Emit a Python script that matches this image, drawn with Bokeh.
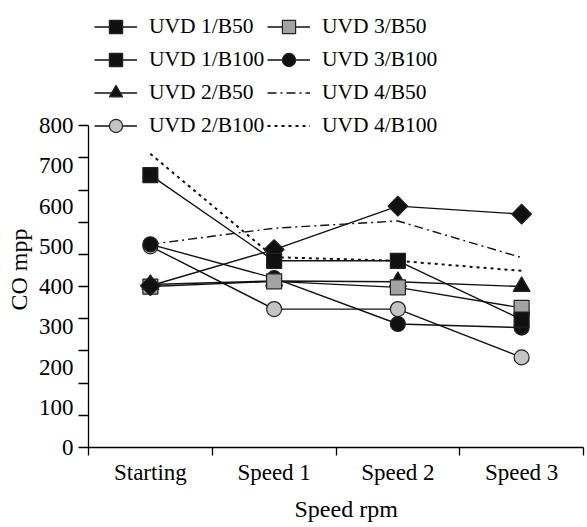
import math
from bokeh.plotting import figure
from bokeh.models import Range1d, FixedTicker, Legend, LegendItem, Title
from bokeh.embed import file_html
from bokeh.resources import INLINE

# ---- data ----
categories = ["Starting", "Speed 1", "Speed 2", "Speed 3"]
uvd1_b50 = [402, 492, 600, 580]
uvd1_b100 = [677, 464, 464, 318]
uvd2_b50 = [405, 414, 412, 400]
uvd2_b100 = [500, 344, 344, 224]
uvd3_b50 = [400, 413, 398, 347]
uvd3_b100 = [505, 421, 307, 298]
uvd4_b50 = [505, 545, 563, 472]
uvd4_b100 = [730, 473, 464, 439]
y_ticks = [0, 100, 200, 300, 400, 500, 600, 700, 800]
y_tick_marks = [0, 80, 160, 240, 320, 400, 480, 560, 640, 720, 800]
x_title = "Speed rpm"
y_title = "CO mpp"

FONT = "serif"
x = [i + 0.5 for i in range(len(categories))]

p = figure(width=587, height=527, output_backend="svg", toolbar_location=None,
           x_range=Range1d(0, len(categories)), y_range=Range1d(0, 1111),
           min_border_left=87, min_border_right=4, min_border_top=0,
           min_border_bottom=80)
p.xgrid.visible = False
p.ygrid.visible = False
p.outline_line_color = None

# axes
xa = p.xaxis[0]
xa.ticker = FixedTicker(ticks=x, minor_ticks=list(range(len(categories) + 1)))
xa.major_label_overrides = {xi: c for xi, c in zip(x, categories)}
xa.major_tick_line_color = None
xa.major_tick_out = 0
xa.major_tick_in = 0
xa.minor_tick_out = 8
xa.minor_tick_in = 0
xa.minor_tick_line_color = "black"
xa.minor_tick_line_width = 1.3
xa.axis_line_width = 1.3
xa.axis_line_color = "black"
xa.major_label_text_font = FONT
xa.major_label_text_font_size = "23px"
xa.major_label_text_color = "black"
xa.major_label_standoff = 4

ya = p.yaxis[0]
ya.bounds = (0, 800)
ya.ticker = FixedTicker(ticks=y_ticks, minor_ticks=y_tick_marks)
ya.major_tick_line_color = None
ya.major_tick_out = 0
ya.major_tick_in = 0
ya.minor_tick_out = 10
ya.minor_tick_in = 0
ya.minor_tick_line_color = "black"
ya.minor_tick_line_width = 1.3
ya.axis_line_width = 1.3
ya.axis_line_color = "black"
ya.major_label_text_font = FONT
ya.major_label_text_font_size = "23px"
ya.major_label_text_color = "black"
ya.major_label_standoff = 5

series = {
    "UVD 1/B50": dict(y=uvd1_b50, marker="square", angle=math.pi / 4, size=14, fill="#111111", dash="solid"),
    "UVD 1/B100": dict(y=uvd1_b100, marker="square", angle=0, size=15, fill="#111111", dash="solid"),
    "UVD 2/B50": dict(y=uvd2_b50, marker="triangle", angle=0, size=17, fill="#111111", dash="solid"),
    "UVD 2/B100": dict(y=uvd2_b100, marker="circle", angle=0, size=15, fill="#c4c4c4", dash="solid"),
    "UVD 3/B50": dict(y=uvd3_b50, marker="square", angle=0, size=15, fill="#a3a3a3", dash="solid"),
    "UVD 3/B100": dict(y=uvd3_b100, marker="circle", angle=0, size=15, fill="#111111", dash="solid"),
    "UVD 4/B50": dict(y=uvd4_b50, marker=None, dash="9 4 2 4"),
    "UVD 4/B100": dict(y=uvd4_b100, marker=None, dash="3 4"),
}

lines = {}
for name, s in series.items():
    w = 2 if s["dash"] == "3 4" else 1.4
    lines[name] = p.line(x, s["y"], line_color="#111111", line_width=w, line_dash=s["dash"])

marks = {}
draw_order = ["UVD 2/B50", "UVD 2/B100", "UVD 3/B100", "UVD 3/B50", "UVD 1/B50", "UVD 1/B100"]
for name in draw_order:
    s = series[name]
    marks[name] = p.scatter(x, s["y"], marker=s["marker"], size=s["size"], angle=s["angle"],
                            fill_color=s["fill"], line_color="#222222", line_width=1.2)

items = []
for name in series:
    rs = [lines[name]] + ([marks[name]] if name in marks else [])
    items.append(LegendItem(label=name, renderers=rs))

legend = Legend(items=items, location=(6, 305), nrows=4, orientation="vertical",
                margin=0, padding=6, spacing=0, glyph_width=43, glyph_height=33,
                label_height=33, label_width=118, label_standoff=12,
                label_text_font=FONT, label_text_font_size="21.5px", label_text_color="black",
                border_line_color=None, background_fill_alpha=0)
p.add_layout(legend)

p.add_layout(Title(text=y_title, align="left", offset=137, standoff=7,
                   text_font=FONT, text_font_size="24px", text_font_style="normal",
                   text_color="black"), "left")
p.add_layout(Title(text=x_title, align="left", offset=206, standoff=12,
                   text_font=FONT, text_font_size="24px", text_font_style="normal",
                   text_color="black"), "below")

open("out.html", "w").write(file_html(p, INLINE))
